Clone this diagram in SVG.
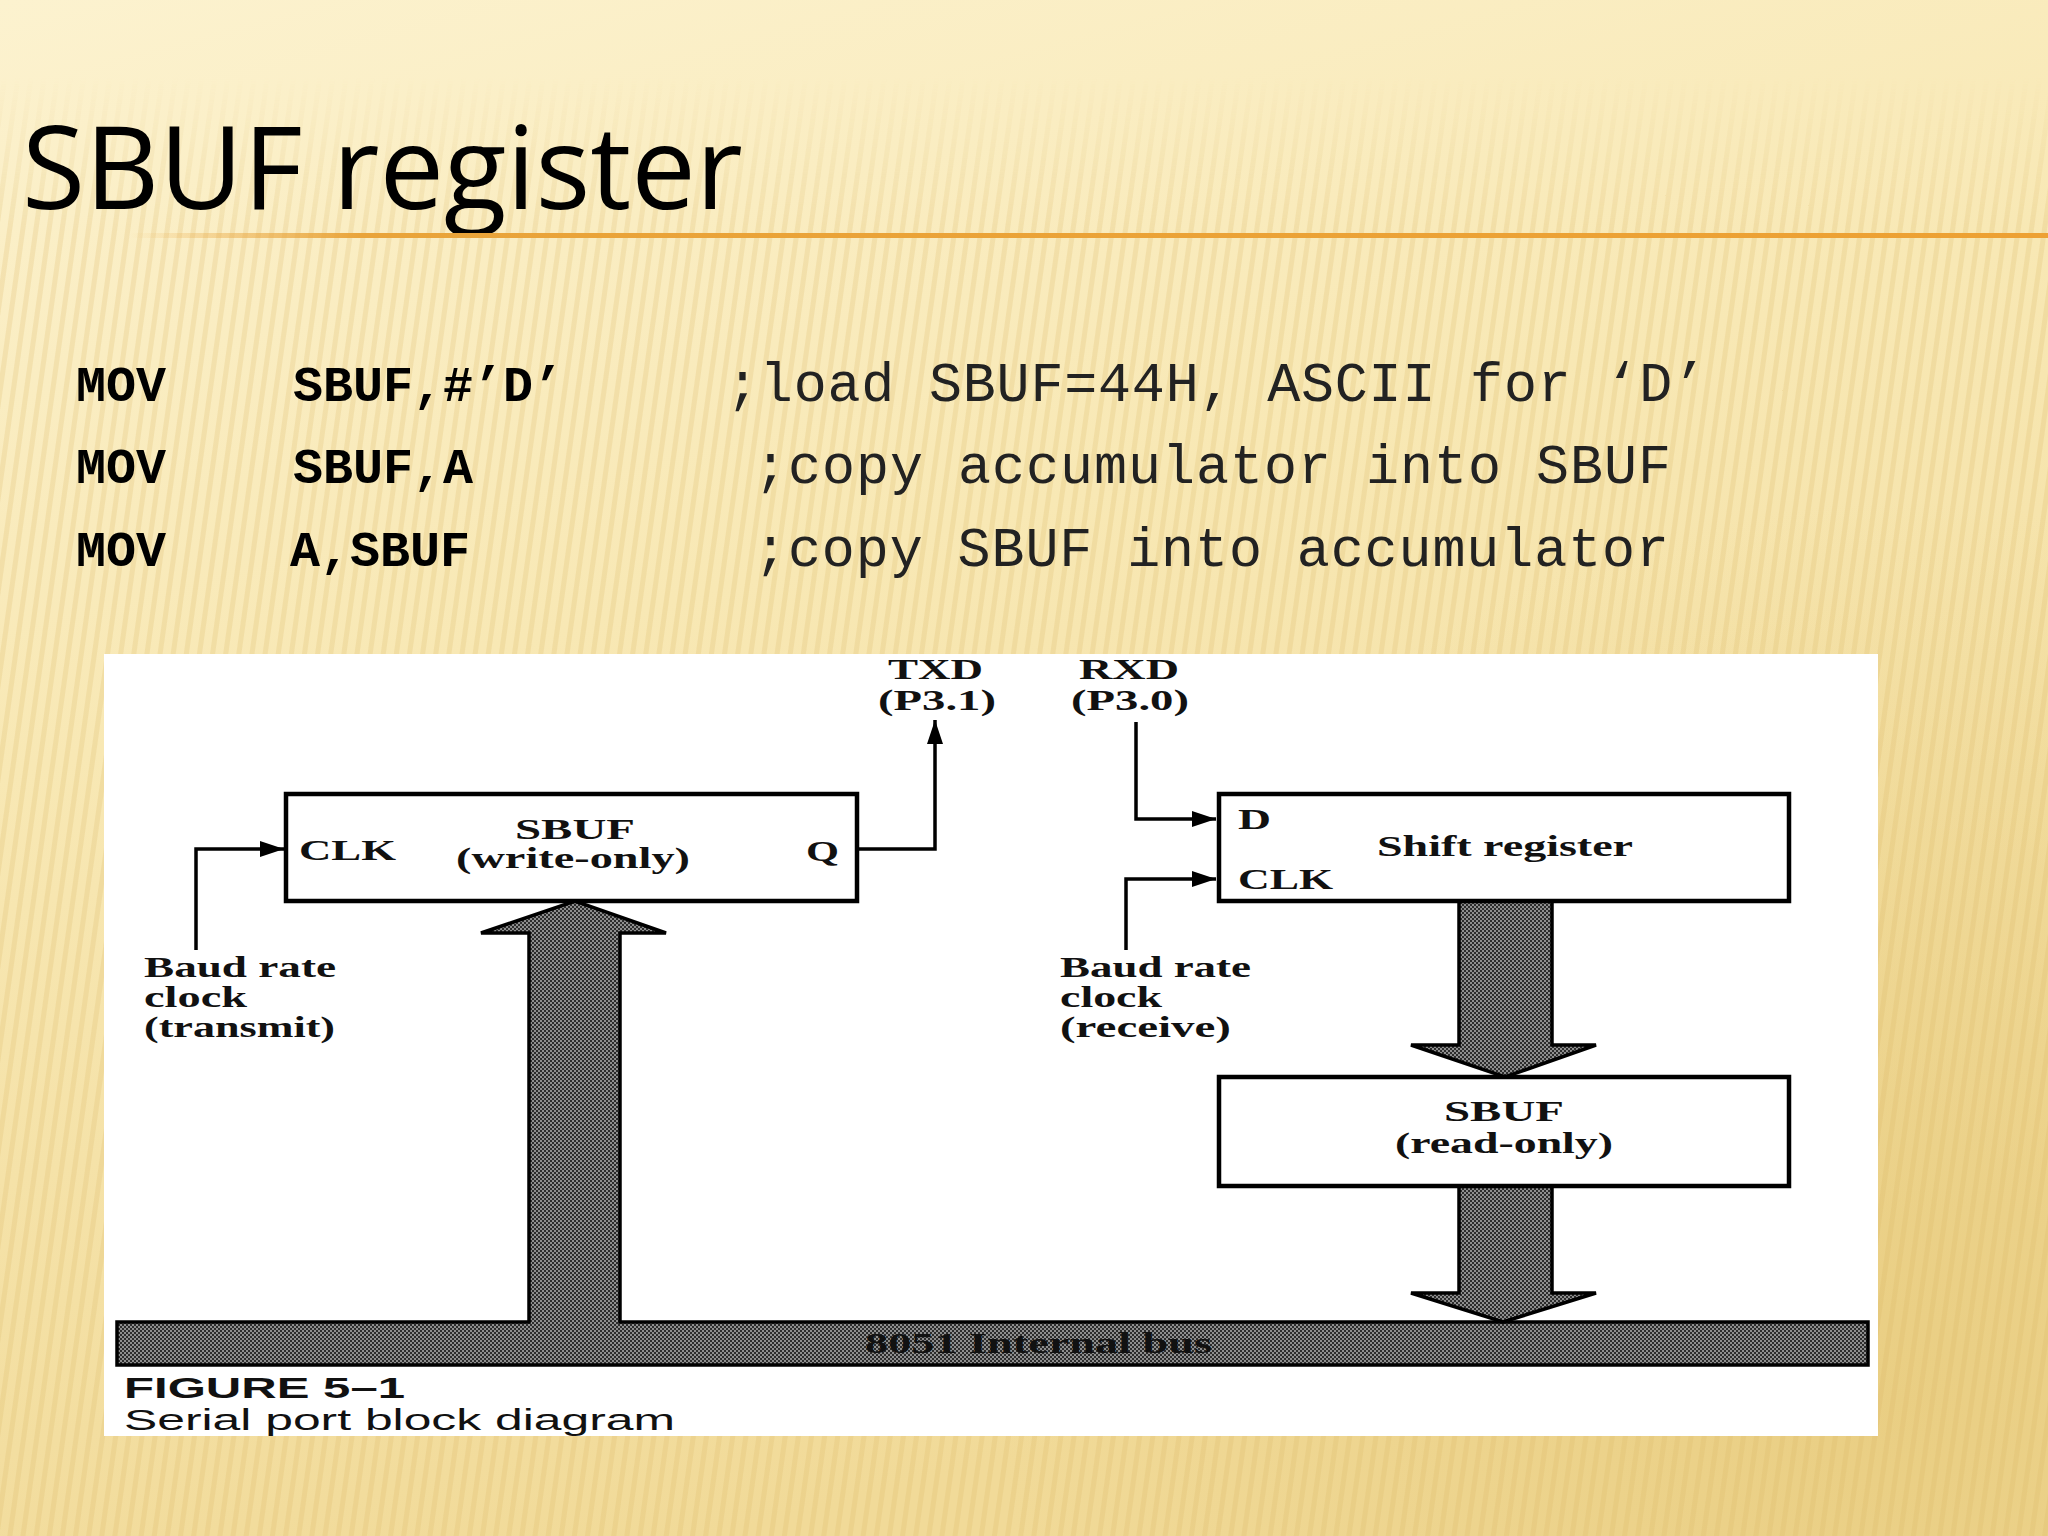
<svg xmlns="http://www.w3.org/2000/svg" width="2048" height="1536" viewBox="0 0 2048 1536">
<defs>
  <linearGradient id="bg" x1="0" y1="0" x2="0.35" y2="1">
    <stop offset="0" stop-color="#FCF2CF"/>
    <stop offset="0.45" stop-color="#F8E8B4"/>
    <stop offset="1" stop-color="#F1DA98"/>
  </linearGradient>
  <radialGradient id="shade" cx="1900" cy="1400" r="900" gradientUnits="userSpaceOnUse">
    <stop offset="0" stop-color="#E6C97A" stop-opacity="0.7"/>
    <stop offset="1" stop-color="#E6C97A" stop-opacity="0"/>
  </radialGradient>
  <linearGradient id="fadeMask" x1="0" y1="0" x2="0" y2="1">
    <stop offset="0" stop-color="#fff" stop-opacity="0"/>
    <stop offset="0.05" stop-color="#fff" stop-opacity="0"/>
    <stop offset="0.15" stop-color="#fff" stop-opacity="1"/>
    <stop offset="1" stop-color="#fff" stop-opacity="1"/>
  </linearGradient>
  <mask id="stripeMask">
    <rect x="0" y="0" width="2048" height="1536" fill="url(#fadeMask)"/>
  </mask>
  <pattern id="stripes" width="13" height="40" patternUnits="userSpaceOnUse" patternTransform="rotate(8)">
    <rect x="0" y="0" width="5" height="40" fill="#D9B865" fill-opacity="0.22"/>
  </pattern>
  <linearGradient id="rule" x1="130" y1="0" x2="2048" y2="0" gradientUnits="userSpaceOnUse">
    <stop offset="0" stop-color="#E9A43A" stop-opacity="0"/>
    <stop offset="0.12" stop-color="#E9A43A" stop-opacity="1"/>
    <stop offset="1" stop-color="#EDA133" stop-opacity="1"/>
  </linearGradient>
  <pattern id="dither" width="4" height="4" patternUnits="userSpaceOnUse">
    <rect width="4" height="4" fill="#2c2c2c"/>
    <rect x="0" y="0" width="2" height="2" fill="#8e8e8e"/>
    <rect x="2" y="2" width="2" height="2" fill="#8e8e8e"/>
  </pattern>
  <marker id="arr" markerUnits="userSpaceOnUse" markerWidth="26" markerHeight="18" refX="24" refY="9" orient="auto">
    <path d="M0,1 L24,9 L0,17 Z" fill="#000"/>
  </marker>
  <style>
    .code-b { font-family: "Liberation Mono", "Courier New", monospace; font-weight: bold; font-size: 50px; fill: #000; }
    .code { font-family: "Liberation Mono", "Courier New", monospace; font-size: 55px; fill: #222; }
    .lbl { font-family: "Liberation Serif", "Times New Roman", serif; font-weight: bold; font-size: 30px; fill: #111; }
    .box { fill: #fff; stroke: #000; stroke-width: 4.5; }
    .wire { fill: none; stroke: #000; stroke-width: 3.5; }
    .bigarrow { fill: url(#dither); stroke: #000; stroke-width: 3.5; stroke-linejoin: miter; }
    .cap-b { font-family: "Liberation Sans", Arial, sans-serif; font-weight: bold; font-size: 29px; fill: #111; }
    .cap { font-family: "Liberation Sans", Arial, sans-serif; font-size: 29px; fill: #111; }
  </style>
</defs>

<!-- background -->
<rect x="0" y="0" width="2048" height="1536" fill="url(#bg)"/>
<rect x="0" y="0" width="2048" height="1536" fill="url(#shade)"/>
<rect x="0" y="0" width="2048" height="1536" fill="url(#stripes)" mask="url(#stripeMask)"/>

<!-- title -->
<text x="22" y="209" font-family="'Open Sans', 'Noto Sans', sans-serif" font-size="115" fill="#000">SBUF register</text>
<rect x="130" y="233" width="1918" height="5" fill="url(#rule)"/>

<!-- code lines -->
<g id="code">
  <text class="code-b" x="76" y="401">MOV</text>
  <text class="code-b" x="293" y="401">SBUF,#’D’</text>
  <text class="code" x="726" y="401" textLength="980" lengthAdjust="spacing">;load SBUF=44H, ASCII for ‘D’</text>
  <text class="code-b" x="76" y="483">MOV</text>
  <text class="code-b" x="293" y="483">SBUF,A</text>
  <text class="code" x="754" y="483" textLength="917" lengthAdjust="spacing">;copy accumulator into SBUF</text>
  <text class="code-b" x="76" y="566">MOV</text>
  <text class="code-b" x="290" y="566">A,SBUF</text>
  <text class="code" x="754" y="566" textLength="915" lengthAdjust="spacing">;copy SBUF into accumulator</text>
</g>

<!-- figure panel -->
<rect x="104" y="654" width="1774" height="782" fill="#fff"/>

<!-- big bus arrows -->
<g id="bus">
  <path class="bigarrow" d="M117,1322 L529,1322 L529,933 L481,933 L575,901 L666,933 L620,933 L620,1322 L1868,1322 L1868,1365 L117,1365 Z"/>
  <text class="lbl" x="865" y="1353" textLength="347" lengthAdjust="spacingAndGlyphs">8051 Internal bus</text>
</g>
<g id="arrow-shift-to-sbuf">
  <path class="bigarrow" d="M1459,901 L1459,1045 L1411,1045 L1505,1077 L1596,1045 L1552,1045 L1552,901"/>
</g>
<g id="arrow-sbuf-to-bus">
  <path class="bigarrow" d="M1459,1186 L1459,1293 L1411,1293 L1503,1322 L1596,1293 L1552,1293 L1552,1186"/>
</g>

<!-- connectors -->
<g id="connectors">
  <polyline class="wire" points="196,950 196,849 284,849" marker-end="url(#arr)"/>
  <polyline class="wire" points="857,849 935,849 935,720" marker-end="url(#arr)"/>
  <polyline class="wire" points="1136,722 1136,819 1216,819" marker-end="url(#arr)"/>
  <polyline class="wire" points="1126,950 1126,879 1216,879" marker-end="url(#arr)"/>
</g>

<!-- SBUF write-only node -->
<g id="sbuf-write">
  <rect class="box" x="286" y="794" width="571" height="107"/>
  <text class="lbl" x="299" y="860" textLength="97" lengthAdjust="spacingAndGlyphs">CLK</text>
  <text class="lbl" x="515" y="839" textLength="120" lengthAdjust="spacingAndGlyphs">SBUF</text>
  <text class="lbl" x="456" y="868" textLength="234" lengthAdjust="spacingAndGlyphs">(write-only)</text>
  <text class="lbl" x="806" y="861" textLength="33" lengthAdjust="spacingAndGlyphs">Q</text>
</g>

<!-- shift register node -->
<g id="shift-register">
  <rect class="box" x="1219" y="794" width="570" height="107"/>
  <text class="lbl" x="1238" y="829" textLength="33" lengthAdjust="spacingAndGlyphs">D</text>
  <text class="lbl" x="1377" y="856" textLength="256" lengthAdjust="spacingAndGlyphs">Shift register</text>
  <text class="lbl" x="1238" y="889" textLength="95" lengthAdjust="spacingAndGlyphs">CLK</text>
</g>

<!-- SBUF read-only node -->
<g id="sbuf-read">
  <rect class="box" x="1219" y="1077" width="570" height="109"/>
  <text class="lbl" x="1444" y="1121" textLength="120" lengthAdjust="spacingAndGlyphs">SBUF</text>
  <text class="lbl" x="1395" y="1153" textLength="218" lengthAdjust="spacingAndGlyphs">(read-only)</text>
</g>

<!-- pin labels -->
<g id="txd">
  <text class="lbl" x="888" y="679" textLength="95" lengthAdjust="spacingAndGlyphs">TXD</text>
  <text class="lbl" x="878" y="710" textLength="118" lengthAdjust="spacingAndGlyphs">(P3.1)</text>
</g>
<g id="rxd">
  <text class="lbl" x="1079" y="679" textLength="100" lengthAdjust="spacingAndGlyphs">RXD</text>
  <text class="lbl" x="1071" y="710" textLength="118" lengthAdjust="spacingAndGlyphs">(P3.0)</text>
</g>
<g id="baud-transmit">
  <text class="lbl" x="144" y="977" textLength="192" lengthAdjust="spacingAndGlyphs">Baud rate</text>
  <text class="lbl" x="144" y="1007" textLength="103" lengthAdjust="spacingAndGlyphs">clock</text>
  <text class="lbl" x="144" y="1037" textLength="191" lengthAdjust="spacingAndGlyphs">(transmit)</text>
</g>
<g id="baud-receive">
  <text class="lbl" x="1060" y="977" textLength="191" lengthAdjust="spacingAndGlyphs">Baud rate</text>
  <text class="lbl" x="1060" y="1007" textLength="102" lengthAdjust="spacingAndGlyphs">clock</text>
  <text class="lbl" x="1060" y="1037" textLength="171" lengthAdjust="spacingAndGlyphs">(receive)</text>
</g>

<!-- caption -->
<g id="caption">
  <text class="cap-b" x="124" y="1398" textLength="281" lengthAdjust="spacingAndGlyphs">FIGURE 5–1</text>
  <text class="cap" x="124" y="1430" textLength="551" lengthAdjust="spacingAndGlyphs">Serial port block diagram</text>
</g>
</svg>
